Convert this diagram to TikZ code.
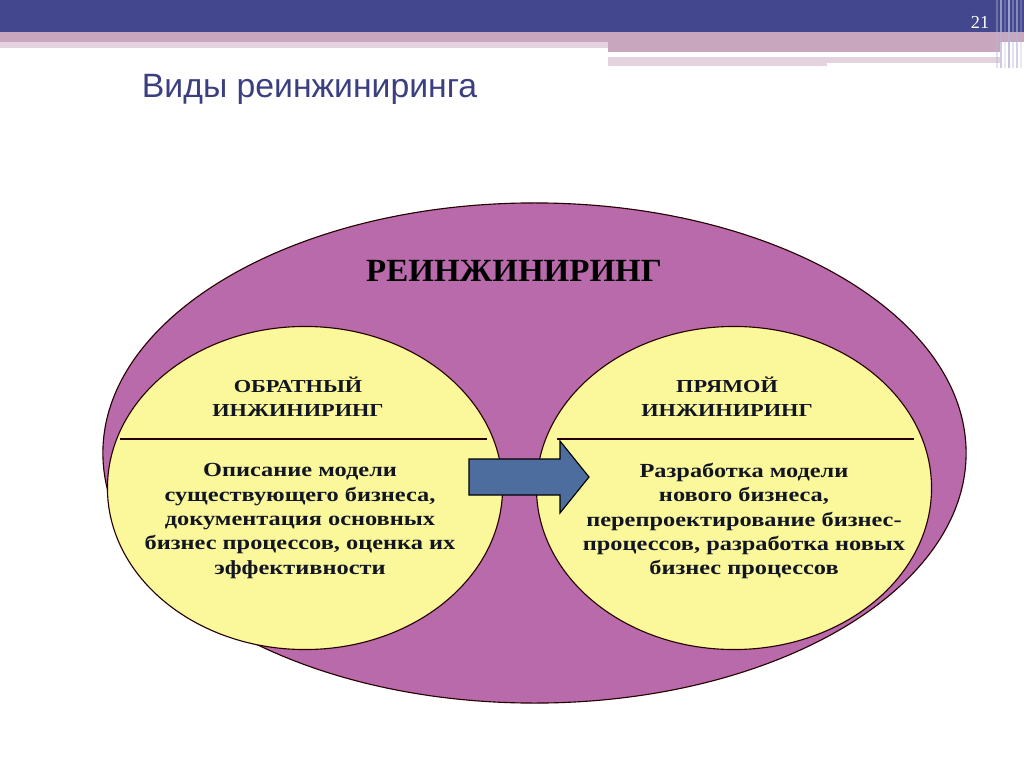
\documentclass[tikz,border=0pt]{standalone}
\usepackage{fontspec}
\setmainfont{Liberation Serif}
\newfontfamily\titlefont{Liberation Sans}
\newfontfamily\widefont[FakeStretch=1.22]{Liberation Serif}
\newfontfamily\headfont[FakeStretch=1.02]{Liberation Serif}
\usetikzlibrary{positioning,shapes.geometric}
\definecolor{barblue}{HTML}{43478E}
\definecolor{bandpink}{HTML}{C8A6BD}
\definecolor{lightpink}{HTML}{E4D2DE}
\definecolor{stripeblue}{HTML}{B4B5D8}
\definecolor{reengpurple}{HTML}{B86AAA}
\definecolor{ovalyellow}{HTML}{FBF89C}
\definecolor{arrowblue}{HTML}{4D6D9E}
\definecolor{titleblue}{HTML}{3B3F7F}
\definecolor{inktext}{HTML}{121622}
\tikzset{
  oval/.style={ellipse,draw=black!85!red,line width=0.8pt,inner sep=0pt},
  headtext/.style={font=\widefont\bfseries\fontsize{13}{17}\selectfont,align=center,text=inktext},
  bodytext/.style={font=\widefont\bfseries\fontsize{14.2}{17.3}\selectfont,align=center,text=inktext}
}
\begin{document}
\begin{tikzpicture}[x=0.025cm,y=-0.025cm]
  \useasboundingbox (0,0) rectangle (1024,767);
  % slide header
  \fill[barblue] (0,0) rectangle (1024,32);
  \fill[bandpink] (0,32) rectangle (1024,42);
  \fill[lightpink] (0,42) rectangle (608,48);
  \fill[bandpink] (608,42) rectangle (1000,52);
  \fill[lightpink] (608,57) rectangle (827,66);
  \fill[lightpink] (827,57) rectangle (1000,63);
  \foreach \xs/\op in {996/0.4,1000/0.7,1004/0.3,1008/0.8,1012/0.4,1016/0.6,1020/0.3}
    \fill[stripeblue,opacity=\op] (\xs,0) rectangle ++(2,68);
  \node[text=white,font=\fontsize{13}{13}\selectfont] (pagenum) at (980,22) {21};
  \node[anchor=base west,text=titleblue,font=\titlefont\fontsize{24}{24}\selectfont] (title) at (137,98) {Виды реинжиниринга};

  % ellipses
  \node[oval,fill=reengpurple,minimum width=21.575cm,minimum height=12.5cm] (reeng) at (534.5,453) {};
  \node[oval,fill=ovalyellow,minimum width=9.875cm,minimum height=8.075cm] (rev) at (305,488) {};
  \node[oval,fill=ovalyellow,minimum width=9.875cm,minimum height=8.075cm] (fwd) at (734,488) {};

  \node[font=\headfont\bfseries\fontsize{23}{23}\selectfont,text=black] (reengname) at (514,271) {РЕИНЖИНИРИНГ};

  % left part
  \node[headtext] (revhead) at (298,397) {ОБРАТНЫЙ\\ИНЖИНИРИНГ};
  \coordinate (revl) at (120,439);
  \coordinate (revr) at (487,439);
  \draw[black!85!red,line width=0.8pt] (revl) -- (revr);
  \node[bodytext] (revbody) at (300,521) {Описание модели\\существующего бизнеса,\\документация основных\\бизнес процессов, оценка их\\эффективности};

  % right part
  \node[headtext] (fwdhead) at (727,397) {ПРЯМОЙ\\ИНЖИНИРИНГ};
  \coordinate (fwdl) at (557,439);
  \coordinate (fwdr) at (914,439);
  \draw[black!85!red,line width=0.8pt] (fwdl) -- (fwdr);
  \node[bodytext] (fwdbody) at (744,521) {Разработка модели\\нового бизнеса,\\перепроектирование бизнес-\\процессов, разработка новых\\бизнес процессов};

  % arrow
  \draw[fill=arrowblue,line width=0.8pt,line join=miter]
    (469,459) -- (560,459) -- (560,441) -- (589,477) -- (560,513) -- (560,495) -- (469,495) -- cycle;
\end{tikzpicture}
\end{document}
